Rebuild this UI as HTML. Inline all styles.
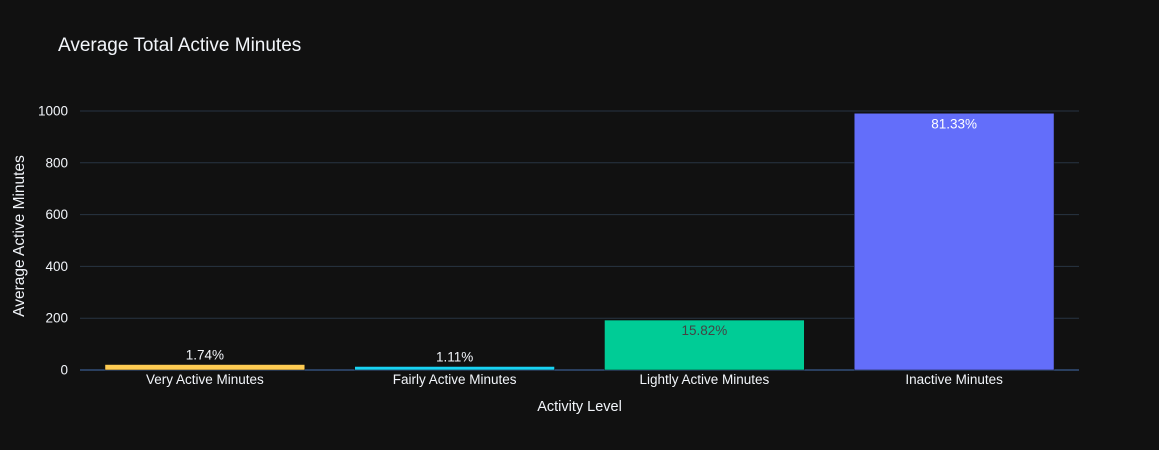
<!DOCTYPE html>
<html><head><meta charset="utf-8"><style>
body{margin:0;background:#111111;}
svg{display:block;font-family:"Liberation Sans",sans-serif;}
</style></head><body>
<svg id="chart" width="1159" height="450">
<rect width="1159" height="450" fill="#111111"/>
<text x="58" y="51" fill="#f2f5fa" font-size="19">Average Total Active Minutes</text>
<g id="grid"></g>
<g id="bars"></g>
<g id="labels"></g>
<text x="579.5" y="411" fill="#f2f5fa" font-size="14.5" text-anchor="middle">Activity Level</text>
<text transform="translate(24,236) rotate(-90)" fill="#f2f5fa" font-size="15.5" text-anchor="middle">Average Active Minutes</text>
</svg>
<script>
const categories=["Very Active Minutes","Fairly Active Minutes","Lightly Active Minutes","Inactive Minutes"];
const values=[21.16,13.56,192.81,991.21];
const pctLabels=["1.74%","1.11%","15.82%","81.33%"];
const colors=["#FECB52","#19D3F3","#00CC96","#636EFA"];
const yTicks=[0,200,400,600,800,1000];

const NS="http://www.w3.org/2000/svg";
const x0=80,x1=1079,yBase=370,pxPer=259/1000;
const y=v=>yBase-v*pxPer;
const band=(x1-x0)/categories.length;
const xc=i=>x0+band*(i+0.5);
function mk(t,a,p){const e=document.createElementNS(NS,t);for(const k in a)e.setAttribute(k,a[k]);p.appendChild(e);return e;}
const grid=document.getElementById('grid'),bars=document.getElementById('bars'),labels=document.getElementById('labels');
yTicks.forEach(t=>{
  const l=mk('line',{x1:x0,x2:x1,y1:y(t),y2:y(t),stroke:t===0?'#2a3f5f':'#283442','stroke-width':t===0?2:1},grid);
  
  
  const tx=mk('text',{x:x0-12,y:y(t)+4.5,fill:'#f2f5fa','font-size':13.5,'text-anchor':'end'},grid);
  tx.textContent=t;
  
  
});
categories.forEach((c,i)=>{
  const w=band*0.8,top=y(values[i]);
  const r=mk('rect',{x:xc(i)-w/2,y:top,width:w,height:yBase-top,fill:colors[i],stroke:'#111111','stroke-width':0.5},bars);
  
  
  const inside=(yBase-top)>30;
  const lt=mk('text',{x:xc(i),y:inside?top+15:top-5,fill:inside?(i===2?'#444444':'#ffffff'):'#f2f5fa','font-size':13.5,'text-anchor':'middle'},labels);
  lt.textContent=pctLabels[i];
  
  
  const xt=mk('text',{x:xc(i),y:384,fill:'#f2f5fa','font-size':13.5,'text-anchor':'middle'},labels);
  xt.textContent=c;
  
  
});
</script>
</body></html>
